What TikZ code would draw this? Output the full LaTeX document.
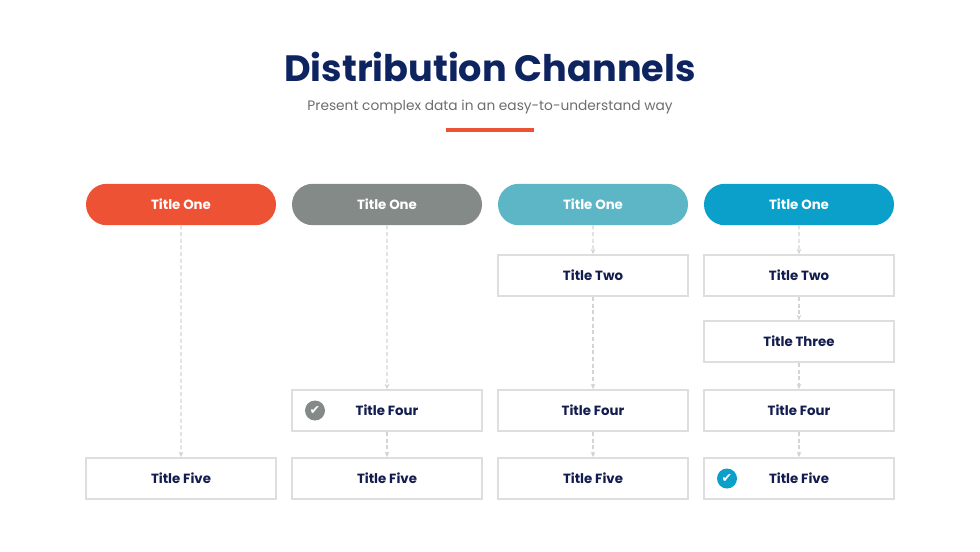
\documentclass[tikz,border=0pt]{standalone}
\usepackage{fontspec}
\setmainfont{Poppins}
\newfontfamily\symfont{DejaVu Sans}
\usetikzlibrary{shapes.misc,arrows.meta}
\definecolor{navy}{HTML}{0E2461}
\definecolor{inknavy}{HTML}{121C4E}
\definecolor{subgray}{HTML}{6E6E6E}
\definecolor{redorange}{HTML}{EE5234}
\definecolor{slate}{HTML}{838A87}
\definecolor{lightteal}{HTML}{5CB6C5}
\definecolor{deepteal}{HTML}{0BA0C9}
\definecolor{boxline}{HTML}{DEDEDE}
\definecolor{dashgray}{HTML}{D4D4D4}
\begin{document}
\begin{tikzpicture}[x=0.75pt,y=-0.75pt,
		pill/.style={rounded rectangle,minimum width=142.5pt,minimum height=31pt,inner sep=0pt,text=white,font=\bfseries\fontsize{10}{12}\selectfont},
		stage/.style={draw=boxline,line width=1.1pt,fill=white,minimum width=142.5pt,minimum height=31pt,inner sep=0pt,text=inknavy,font=\bfseries\fontsize{10}{12}\selectfont},
		tick/.style={circle,minimum size=15pt,inner sep=0pt,text=white,font=\symfont\fontsize{9.5}{9.5}\selectfont},
		link/.style={draw=dashgray,line width=0.8pt,dash pattern=on 3pt off 2pt,-{Stealth[length=4pt,width=3.5pt]}}]
	\useasboundingbox[fill=white] (0,0) rectangle (980,551);
	% heading
	\node[text=navy,font=\bfseries\fontsize{27.5}{32}\selectfont] (heading) at (490,67) {Distribution Channels};
	\node[text=subgray,font=\fontsize{10.3}{12}\selectfont] (subheading) at (490,107) {Present complex data in an easy-to-understand way};
	\draw[redorange,line width=2.3pt] (446,130) -- (534,130);
	% column one
	\node[pill,fill=redorange] (a1) at (181,204.5) {Title One};
	\node[stage] (a5) at (181,478.5) {Title Five};
	\draw[link] (a1) -- (a5);
	% column two
	\node[pill,fill=slate] (b1) at (387,204.5) {Title One};
	\node[stage] (b4) at (387,410.5) {Title Four};
	\node[stage] (b5) at (387,478.5) {Title Five};
	\node[tick,fill=slate] (bchk) at (315,410.5) {✔};
	\draw[link] (b1) -- (b4);
	\draw[link] (b4) -- (b5);
	% column three
	\node[pill,fill=lightteal] (c1) at (593,204.5) {Title One};
	\node[stage] (c2) at (593,275.5) {Title Two};
	\node[stage] (c4) at (593,410.5) {Title Four};
	\node[stage] (c5) at (593,478.5) {Title Five};
	\draw[link] (c1) -- (c2);
	\draw[link] (c2) -- (c4);
	\draw[link] (c4) -- (c5);
	% column four
	\node[pill,fill=deepteal] (d1) at (799,204.5) {Title One};
	\node[stage] (d2) at (799,275.5) {Title Two};
	\node[stage] (d3) at (799,341.5) {Title Three};
	\node[stage] (d4) at (799,410.5) {Title Four};
	\node[stage] (d5) at (799,478.5) {Title Five};
	\node[tick,fill=deepteal] (dchk) at (727,478.5) {✔};
	\draw[link] (d1) -- (d2);
	\draw[link] (d2) -- (d3);
	\draw[link] (d3) -- (d4);
	\draw[link] (d4) -- (d5);
\end{tikzpicture}
\end{document}
